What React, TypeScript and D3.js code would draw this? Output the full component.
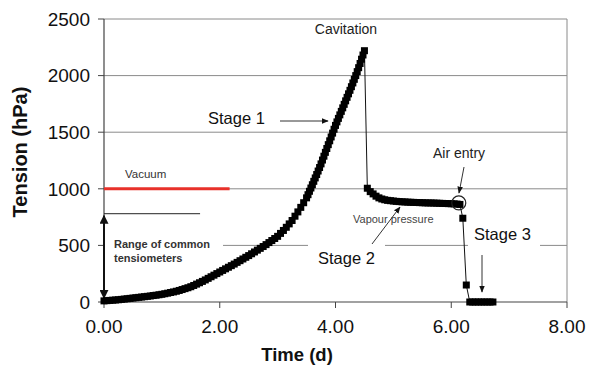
import React from "react";
import * as d3 from "d3";

// ---- data ----
const xTicks = [0, 2, 4, 6, 8];
const yTicks = [0, 500, 1000, 1500, 2000, 2500];

// Stage 1: build-up of tension (time in days, tension in hPa)
const stage1Time = [
  0.0, 0.05, 0.1, 0.15, 0.2, 0.25, 0.3, 0.35, 0.4, 0.45, 0.5, 0.55, 0.6, 0.65, 0.7, 0.75, 0.8, 0.85, 0.9, 0.95,
  1.0, 1.05, 1.1, 1.15, 1.2, 1.25, 1.3, 1.35, 1.4, 1.45, 1.5, 1.55, 1.6, 1.65, 1.7, 1.75, 1.8, 1.85, 1.9, 1.95,
  2.0, 2.05, 2.1, 2.15, 2.2, 2.25, 2.3, 2.35, 2.4, 2.45, 2.5, 2.55, 2.6, 2.65, 2.7, 2.75, 2.8, 2.85, 2.9, 2.95,
  3.0, 3.05, 3.1, 3.15, 3.2, 3.25, 3.3, 3.35, 3.4, 3.45,
  3.5, 3.525, 3.55, 3.575, 3.6, 3.625, 3.65, 3.675, 3.7, 3.725, 3.75, 3.775, 3.8, 3.825, 3.85, 3.875, 3.9, 3.925, 3.95, 3.975,
  4.0, 4.025, 4.05, 4.075, 4.1, 4.125, 4.15, 4.175, 4.2, 4.225, 4.25, 4.275, 4.3, 4.325, 4.35, 4.375, 4.4, 4.425, 4.45, 4.475,
  4.5,
];
const stage1Tension = [
  10, 12, 14, 16, 18, 20, 23, 26, 29, 32, 35, 38, 41, 44, 47, 50, 53, 57, 60, 64,
  68, 73, 78, 84, 89, 95, 102, 110, 118, 126, 135, 146, 158, 170, 182, 195, 209, 223, 237, 251,
  265, 279, 293, 307, 321, 335, 350, 365, 380, 395, 410, 426, 442, 458, 474, 490, 507, 525, 543, 561,
  580, 606, 632, 660, 690, 720, 758, 796, 836, 877,
  920, 948, 978, 1007, 1036, 1066, 1096, 1126, 1157, 1188, 1220, 1254, 1288, 1322, 1356, 1390, 1424, 1458, 1492, 1526,
  1560, 1591, 1622, 1653, 1684, 1715, 1746, 1777, 1808, 1839, 1870, 1902, 1935, 1967, 2000, 2035, 2070, 2107, 2145, 2182,
  2220,
];

// Stage 2: vapour pressure plateau after cavitation
const stage2Time = [
  4.55, 4.6, 4.65, 4.7, 4.75, 4.8, 4.85, 4.9, 4.95, 5.0, 5.05, 5.1, 5.15, 5.2, 5.25, 5.3, 5.35, 5.4, 5.45, 5.5,
  5.55, 5.6, 5.65, 5.7, 5.75, 5.8, 5.85, 5.9, 5.95, 6.0, 6.05, 6.1, 6.15,
];
const stage2Tension = [
  1005, 975, 955, 935, 920, 910, 903, 898, 895, 892, 889, 887, 885, 884, 882, 881, 880, 879, 878, 877,
  876, 875, 875, 874, 873, 872, 871, 870, 869, 868, 867, 865, 862,
];

// Stage 3: air entry and drop to zero
const stage3Time = [6.2, 6.26, 6.32, 6.37, 6.42, 6.47, 6.52, 6.57, 6.62, 6.67, 6.72];
const stage3Tension = [740, 150, 0, 0, 0, 0, 0, 0, 0, 0, 0];

// reference lines
const vacuumTension = 1000;
const vacuumEnd = 2.17;
const tensiometerMax = 780;
const tensiometerEnd = 1.66;
const airEntryPoint = { t: 6.13, v: 875 };

const W = 591;
const H = 369;
const M = { left: 104, right: 567, top: 19, bottom: 302 };
const FONT = "Arial, 'Liberation Sans', sans-serif";
const GRID = "#8a8a8a";

export default function App() {
  const x = d3.scaleLinear().domain([0, 8]).range([M.left, M.right]);
  const y = d3.scaleLinear().domain([0, 2500]).range([M.bottom, M.top]);

  const pts = [
    ...stage1Time.map((t, i) => [t, stage1Tension[i]] as [number, number]),
    ...stage2Time.map((t, i) => [t, stage2Tension[i]] as [number, number]),
    ...stage3Time.map((t, i) => [t, stage3Tension[i]] as [number, number]),
  ];
  const line = d3
    .line<[number, number]>()
    .x((d) => x(d[0]))
    .y((d) => y(d[1]));
  const ms = 7;

  return (
    <svg
      width={W}
      height={H}
      viewBox={`0 0 ${W} ${H}`}
      style={{ position: "absolute", left: 0, top: 0, background: "#fff" }}
      fontFamily={FONT}
    >
      <defs>
        <marker id="ah" viewBox="0 0 10 10" refX="9" refY="5" markerWidth="7" markerHeight="7" orient="auto-start-reverse" markerUnits="userSpaceOnUse">
          <path d="M0,1 L10,5 L0,9 z" fill="#111" />
        </marker>
        <marker id="ahBig" viewBox="0 0 10 10" refX="9" refY="5" markerWidth="9" markerHeight="9" orient="auto-start-reverse" markerUnits="userSpaceOnUse">
          <path d="M0,0 L10,5 L0,10 z" fill="#111" />
        </marker>
      </defs>

      {/* gridlines */}
      {yTicks.filter((v) => v > 0).map((v) => (
        <line key={v} x1={M.left} x2={M.right} y1={y(v)} y2={y(v)} stroke={GRID} strokeWidth={1} />
      ))}
      <line x1={M.right} x2={M.right} y1={M.top} y2={M.bottom} stroke={GRID} strokeWidth={1} />

      {/* white label boxes interrupting the 500 line */}
      <rect x={x(0) + 1} y={y(500) - 4} width={118} height={8} fill="#fff" />
      <rect x={308} y={y(500) - 4} width={77} height={8} fill="#fff" />
      <rect x={468} y={y(500) - 4} width={72} height={8} fill="#fff" />

      {/* axes */}
      <line x1={M.left} x2={M.left} y1={M.top} y2={M.bottom} stroke="#444" strokeWidth={1.2} />
      <line x1={M.left} x2={M.right} y1={M.bottom} y2={M.bottom} stroke="#444" strokeWidth={1.2} />
      {yTicks.map((v) => (
        <g key={v}>
          <line x1={M.left - 6} x2={M.left} y1={y(v)} y2={y(v)} stroke="#444" />
          <text x={90} y={y(v)} dy="0.36em" textAnchor="end" fontSize={19} fill="#111">
            {v}
          </text>
        </g>
      ))}
      {xTicks.map((t) => (
        <g key={t}>
          <line x1={x(t)} x2={x(t)} y1={M.bottom} y2={M.bottom + 6} stroke="#444" />
          <text x={x(t)} y={333} textAnchor="middle" fontSize={19} fill="#111">
            {t.toFixed(2)}
          </text>
        </g>
      ))}
      <text x={297} y={361} textAnchor="middle" fontSize={18.5} fontWeight="bold" fill="#111">
        Time (d)
      </text>
      <text transform={`translate(27,152) rotate(-90)`} textAnchor="middle" fontSize={20} fontWeight="bold" fill="#111">
        Tension (hPa)
      </text>

      {/* vacuum & tensiometer range */}
      <line x1={x(0)} x2={x(vacuumEnd)} y1={y(vacuumTension)} y2={y(vacuumTension)} stroke="#e8312a" strokeWidth={3} />
      <text x={125} y={178} fontSize={11.5} fill="#333">Vacuum</text>
      <line x1={x(0)} x2={x(tensiometerEnd)} y1={y(tensiometerMax)} y2={y(tensiometerMax)} stroke="#222" strokeWidth={1} />
      <line x1={x(0)} x2={x(0)} y1={y(tensiometerMax) + 2} y2={y(0) - 4} stroke="#111" strokeWidth={2} markerStart="url(#ahBig)" markerEnd="url(#ahBig)" />
      <text x={114} y={248} fontSize={11} fontWeight="bold" fill="#333">Range of common</text>
      <text x={114} y={262} fontSize={11} fontWeight="bold" fill="#333">tensiometers</text>

      {/* data */}
      <path d={line(pts) || ""} fill="none" stroke="#111" strokeWidth={1} />
      {pts.map((d, i) => (
        <rect key={i} x={x(d[0]) - ms / 2} y={y(d[1]) - ms / 2} width={ms} height={ms} fill="#000" />
      ))}
      <circle cx={x(airEntryPoint.t)} cy={y(airEntryPoint.v)} r={7} fill="none" stroke="#222" strokeWidth={1.2} />

      {/* annotations */}
      <text x={346} y={34} textAnchor="middle" fontSize={14} fill="#222">Cavitation</text>
      <text x={208} y={124} fontSize={16.5} fill="#111">Stage 1</text>
      <line x1={280} x2={328} y1={121} y2={121} stroke="#333" strokeWidth={1} markerEnd="url(#ah)" />
      <text x={433} y={158} fontSize={14} fill="#222">Air entry</text>
      <line x1={464} x2={459} y1={167} y2={193} stroke="#333" strokeWidth={1} markerEnd="url(#ah)" />
      <text x={353} y={223} fontSize={11} fill="#444">Vapour pressure</text>
      <text x={318} y={264} fontSize={16.5} fill="#111">Stage 2</text>
      <line x1={372} x2={400} y1={244} y2={207} stroke="#333" strokeWidth={1} markerEnd="url(#ah)" />
      <text x={474} y={240} fontSize={16.5} fill="#111">Stage 3</text>
      <line x1={482} x2={482} y1={255} y2={292} stroke="#333" strokeWidth={1} markerEnd="url(#ah)" />
    </svg>
  );
}
